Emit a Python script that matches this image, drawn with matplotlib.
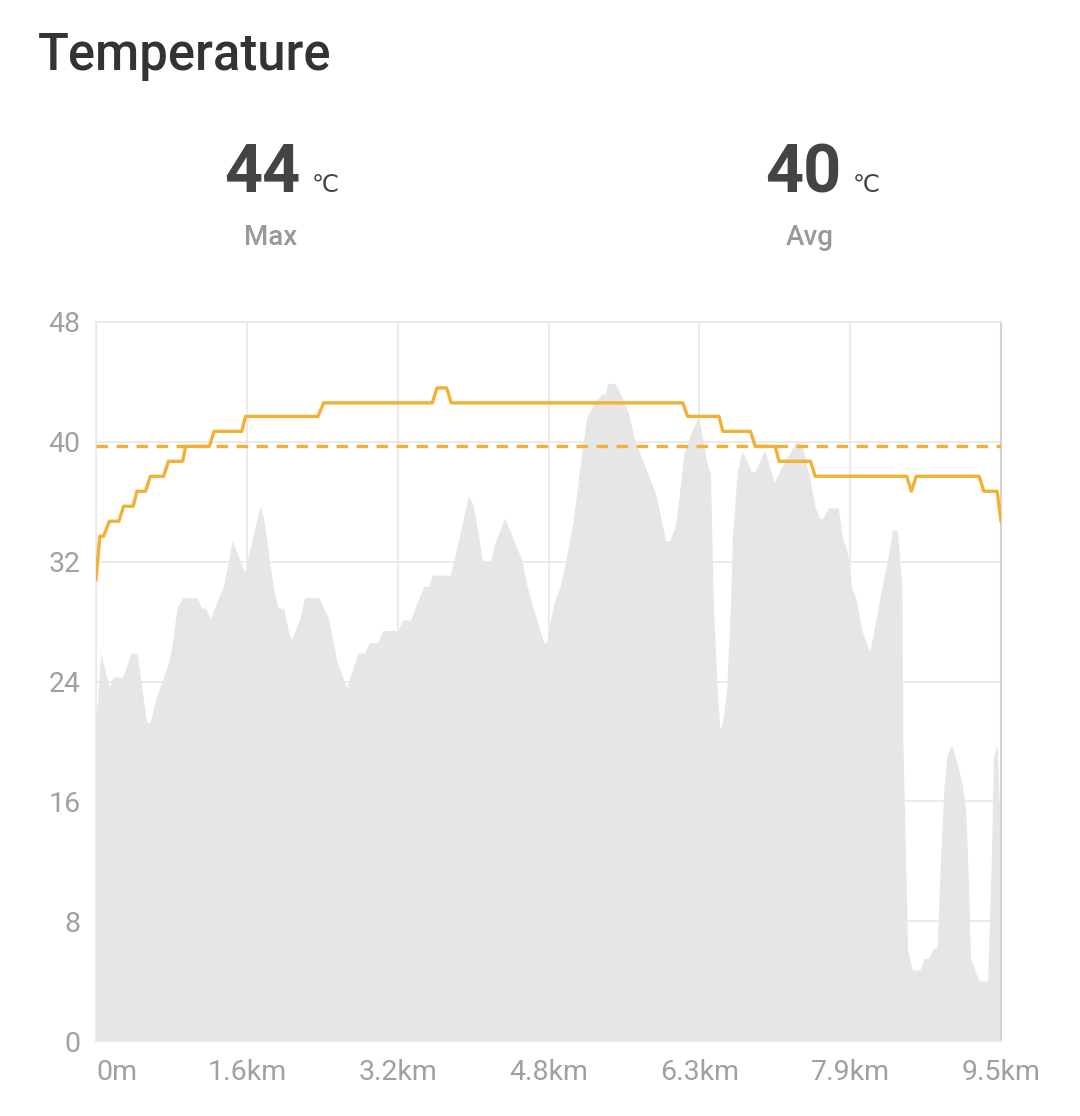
import matplotlib
matplotlib.use("Agg")
import matplotlib.pyplot as plt

# gray background profile (distance km, scaled value)
area_km = [0.00, 0.05, 0.14, 0.18, 0.28, 0.37, 0.43, 0.53, 0.57, 0.63, 0.76, 0.79, 0.85, 0.91,
           1.06, 1.11, 1.15, 1.20, 1.34, 1.43, 1.56, 1.72, 1.76, 1.86, 1.91, 1.97, 2.02, 2.05,
           2.14, 2.19, 2.34, 2.44, 2.53, 2.63, 2.75, 2.82, 2.87, 2.96, 3.01, 3.17, 3.22, 3.30,
           3.44, 3.49, 3.53, 3.72, 3.79, 3.91, 3.96, 4.06, 4.14, 4.19, 4.29, 4.47, 4.52, 4.59,
           4.70, 4.73, 4.80, 4.87, 4.91, 5.01, 5.08, 5.15, 5.22, 5.31, 5.35, 5.37, 5.45, 5.52,
           5.59, 5.66, 5.78, 5.88, 5.98, 6.02, 6.08, 6.12, 6.17, 6.24, 6.31, 6.34, 6.39, 6.42,
           6.45, 6.48, 6.52, 6.55, 6.58, 6.62, 6.66, 6.68, 6.73, 6.78, 6.83, 6.88, 6.92, 6.97,
           7.02, 7.12, 7.21, 7.36, 7.42, 7.49, 7.55, 7.60, 7.63, 7.69, 7.79, 7.84, 7.89, 7.93,
           7.98, 8.04, 8.12, 8.16, 8.23, 8.32, 8.36, 8.41, 8.46, 8.47, 8.52, 8.57, 8.65, 8.69,
           8.74, 8.79, 8.83, 8.86, 8.90, 8.93, 8.98, 9.03, 9.09, 9.13, 9.16, 9.18, 9.27, 9.36,
           9.40, 9.42, 9.46, 9.48, 9.50]
area_val = [21.2, 25.9, 23.6, 24.3, 24.3, 25.9, 25.9, 21.3, 21.3, 22.9, 25.2, 26.1, 28.9, 29.6,
            29.6, 28.9, 28.9, 28.2, 30.4, 33.4, 31.3, 35.7, 34.9, 30.3, 28.9, 28.9, 27.4, 26.8,
            28.2, 29.6, 29.6, 28.2, 25.3, 23.6, 25.9, 25.9, 26.6, 26.6, 27.4, 27.4, 28.1, 28.1,
            30.35, 30.35, 31.1, 31.1, 33.0, 36.4, 35.75, 32.0, 32.0, 33.3, 34.9, 32.1, 30.5, 28.9,
            26.6, 26.6, 29.1, 30.3, 31.4, 34.75, 38.3, 41.6, 42.5, 43.2, 43.2, 43.9, 43.9, 43.0,
            41.9, 40.0, 38.1, 36.4, 33.4, 33.4, 34.3, 36.3, 39.2, 40.5, 41.5, 41.2, 39.4, 38.4,
            37.9, 29.2, 23.6, 20.75, 21.4, 23.4, 29.2, 33.6, 37.9, 39.4, 38.75, 38.0, 38.0, 38.75,
            39.4, 37.3, 38.5, 40.1, 39.5, 37.6, 35.6, 34.9, 34.9, 35.6, 35.6, 33.5, 32.6, 30.3,
            29.5, 27.4, 26.0, 27.2, 29.6, 32.5, 34.1, 34.1, 30.5, 20.1, 6.1, 4.75, 4.75, 5.5,
            5.5, 6.2, 6.2, 11.4, 16.75, 19.0, 19.8, 18.75, 17.2, 15.4, 10.3, 5.5, 4.0, 4.0,
            12.5, 19.0, 19.8, 15.9, 15.9]

# temperature (°C)
temp_km = [0.00, 0.04, 0.08, 0.14, 0.24, 0.29, 0.39, 0.43, 0.52, 0.57, 0.71, 0.76, 0.91, 0.94,
           1.19, 1.24, 1.53, 1.57, 2.33, 2.39, 3.53, 3.58, 3.68, 3.73, 6.16, 6.21, 6.54, 6.58,
           6.87, 6.92, 7.13, 7.17, 7.50, 7.55, 8.51, 8.56, 8.61, 9.27, 9.32, 9.46, 9.50]
temp_val = [30.8, 33.7, 33.7, 34.7, 34.7, 35.7, 35.7, 36.7, 36.7, 37.7, 37.7, 38.7, 38.7, 39.7,
            39.7, 40.7, 40.7, 41.7, 41.7, 42.6, 42.6, 43.6, 43.6, 42.6, 42.6, 41.7, 41.7, 40.7,
            40.7, 39.7, 39.7, 38.7, 38.7, 37.7, 37.7, 36.7, 37.7, 37.7, 36.7, 36.7, 34.7]
temp_avg = 39.7

stat_values = ["44", "40"]
stat_labels = ["Max", "Avg"]

x_ticks = [0, 1.583, 3.167, 4.75, 6.333, 7.917, 9.5]
x_labels = ["0m", "1.6km", "3.2km", "4.8km", "6.3km", "7.9km", "9.5km"]
y_ticks = [0, 8, 16, 24, 32, 40, 48]

ORANGE = "#f2b134"
TICK = "#a0a0a0"
GRID = "#e8e8e8"

W, H = 1080, 1116
fig = plt.figure(figsize=(W / 100, H / 100), dpi=100)
ax = fig.add_axes([96 / W, 1 - 1041 / H, 905 / W, 719 / H])

ax.fill_between(area_km, area_val, 0, color="#e6e6e6", lw=0, zorder=1)
ax.plot(temp_km, temp_val, color=ORANGE, lw=2.4, zorder=3, solid_joinstyle="round")
ax.axhline(temp_avg, color=ORANGE, lw=2.4, ls=(0, (3.5, 2.5)), zorder=3)

ax.set_xlim(0, 9.5)
ax.set_ylim(0, 48)
ax.set_xticks(x_ticks)
ax.set_xticklabels(x_labels)
ax.set_yticks(y_ticks)
ax.set_axisbelow(True)
ax.grid(True, color=GRID, lw=1.2)
ax.tick_params(length=0, labelsize=20.5, labelcolor=TICK, pad=13)
ax.tick_params(axis="y", pad=11)
for lab in ax.get_xticklabels() + ax.get_yticklabels():
    lab.set_fontfamily("Roboto")
ax.get_xticklabels()[0].set_horizontalalignment("left")
for side in ["top", "bottom", "left"]:
    ax.spines[side].set_color(GRID)
    ax.spines[side].set_linewidth(1.2)
ax.spines["right"].set_color("#d4d4d4")
ax.spines["right"].set_linewidth(1.5)

fig.text(38 / W, 1 - 70 / H, "Temperature", fontsize=36.5, fontweight="medium",
         color="#333333", family="Roboto", ha="left", va="baseline")

for i, (val, lab) in enumerate(zip(stat_values, stat_labels)):
    right = [300, 841][i]
    center = [271, 810][i]
    fig.text(right / W, 1 - 192 / H, val, fontsize=48, fontweight="bold", color="#444444",
             family="Roboto", ha="right", va="baseline")
    fig.text((right + 12) / W, 1 - 192 / H, "℃", fontsize=17.5, color="#444444",
             family=["Roboto", "DejaVu Sans"], ha="left", va="baseline")
    fig.text(center / W, 1 - 245 / H, lab, fontsize=20, fontweight="medium", color="#999999",
             family="Roboto", ha="center", va="baseline")

fig.savefig("out.png", dpi=100, facecolor="white")
